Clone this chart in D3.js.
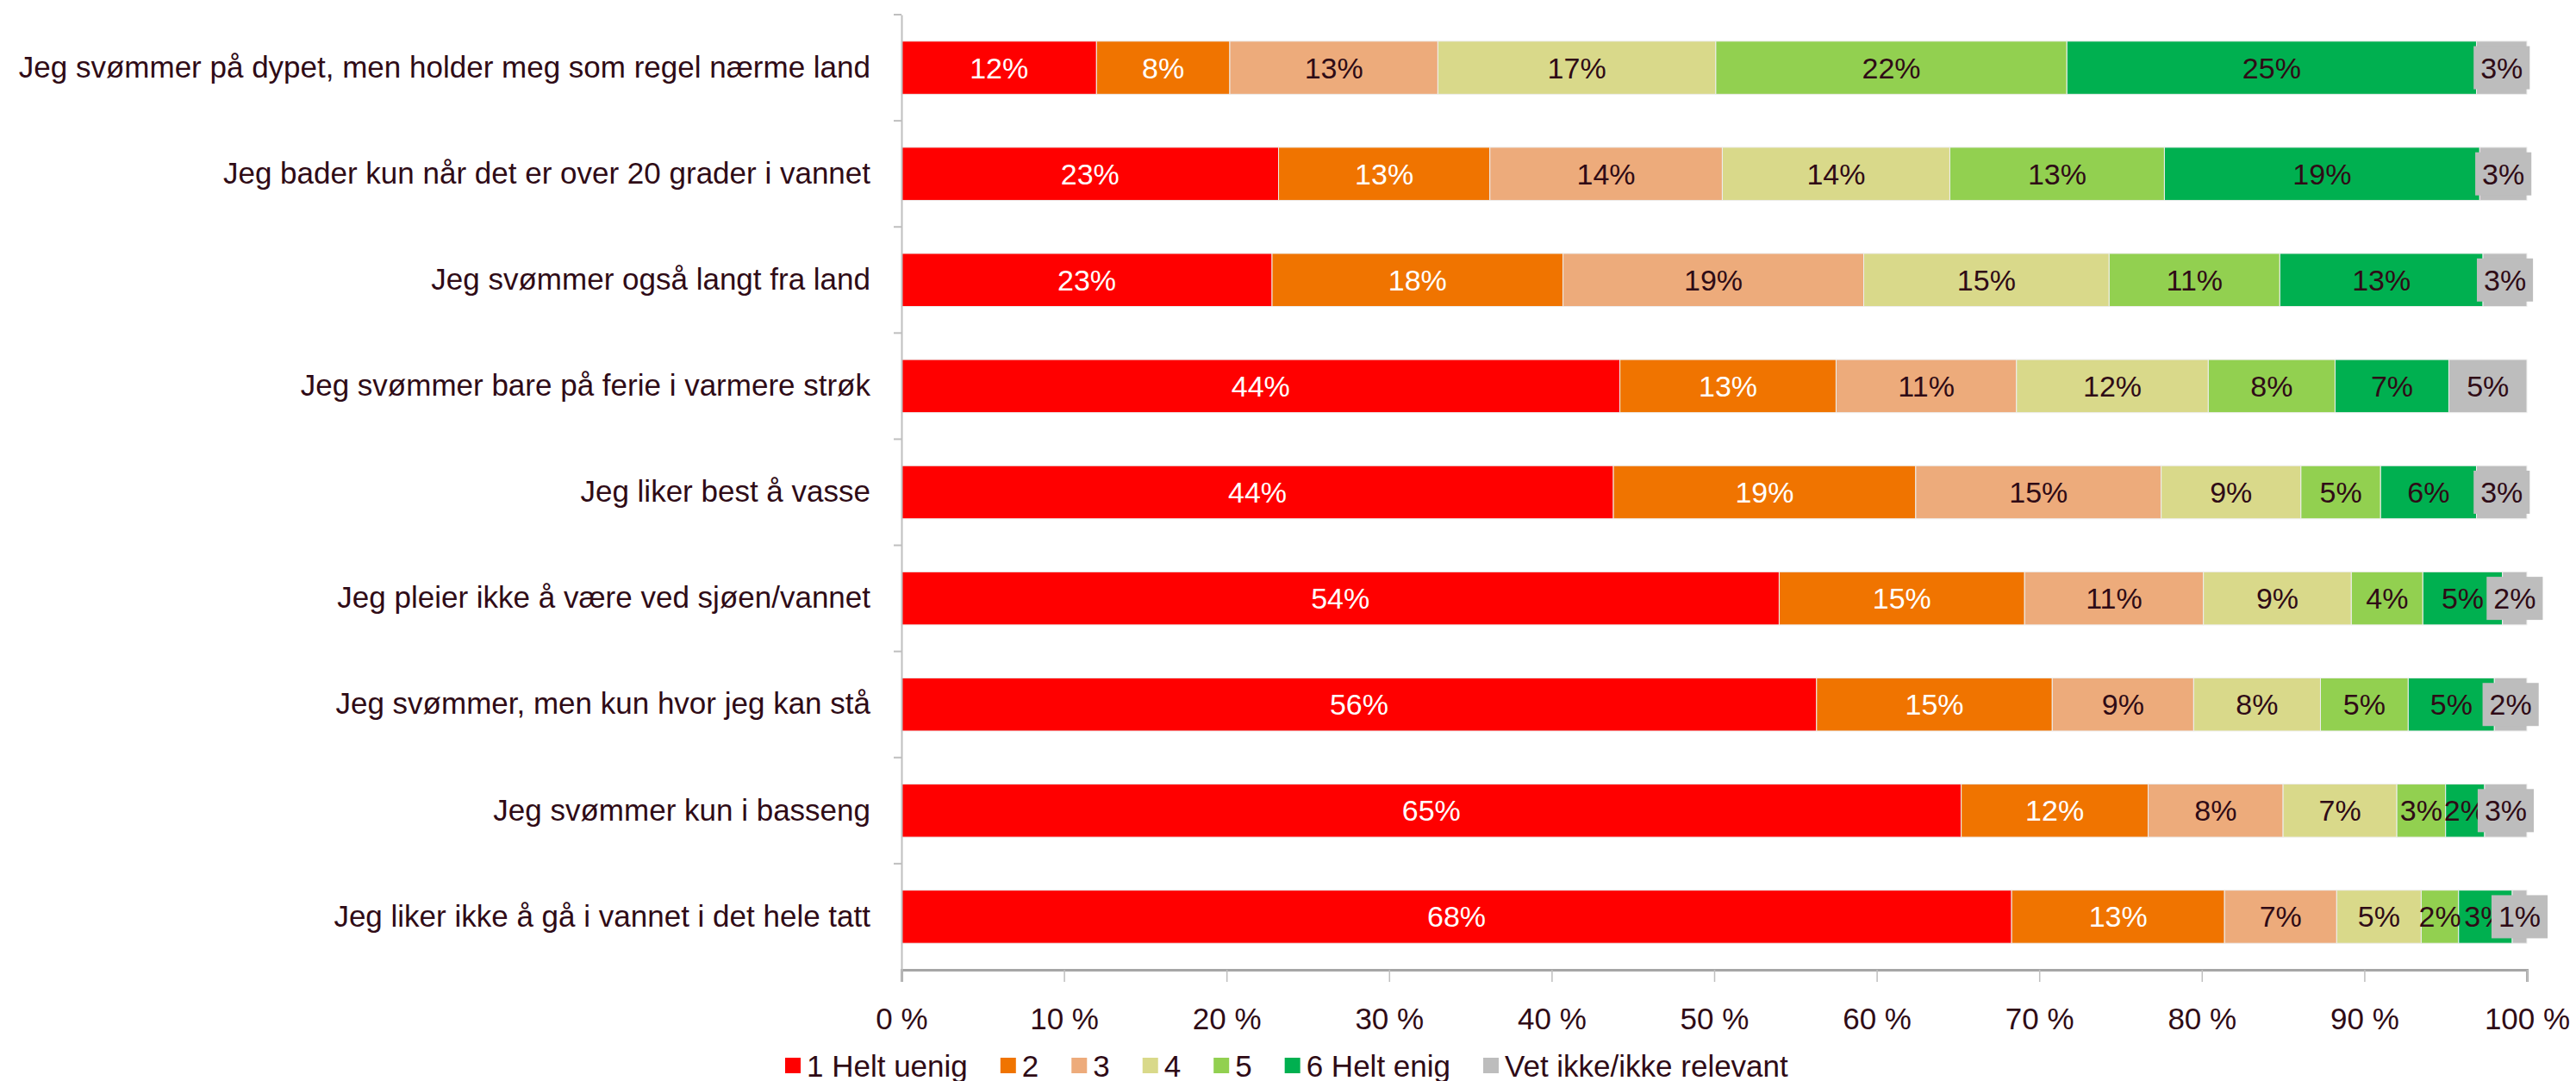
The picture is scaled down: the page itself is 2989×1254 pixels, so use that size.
<!DOCTYPE html>
<html>
<head>
<meta charset="utf-8">
<script src="https://cdn.jsdelivr.net/npm/d3@7/dist/d3.min.js"></script>
<style>
  html, body { margin: 0; padding: 0; background: #ffffff; }
  svg { display: block; }
  text { font-family: "Liberation Sans", Arial, sans-serif; }
</style>
</head>
<body>
<script>
// ---------- DATA ----------
const categories = [
  "Jeg svømmer på dypet, men holder meg som regel nærme land",
  "Jeg bader kun når det er over 20 grader i vannet",
  "Jeg svømmer også langt fra land",
  "Jeg svømmer bare på ferie i varmere strøk",
  "Jeg liker best å vasse",
  "Jeg pleier ikke å være ved sjøen/vannet",
  "Jeg svømmer, men kun hvor jeg kan stå",
  "Jeg svømmer kun i basseng",
  "Jeg liker ikke å gå i vannet i det hele tatt"
];
const seriesNames = ["1 Helt uenig", "2", "3", "4", "5", "6 Helt enig", "Vet ikke/ikke relevant"];
const s1 = [12.0, 23.2, 22.8, 44.2, 43.8, 54.0, 56.3, 65.2, 68.3];
const s2 = [8.2, 13.0, 17.9, 13.3, 18.6, 15.1, 14.5, 11.5, 13.1];
const s3 = [12.8, 14.3, 18.5, 11.1, 15.1, 11.0, 8.7, 8.3, 6.9];
const s4 = [17.1, 14.0, 15.1, 11.8, 8.6, 9.1, 7.8, 7.0, 5.2];
const s5 = [21.6, 13.2, 10.5, 7.8, 4.9, 4.4, 5.4, 3.0, 2.3];
const s6 = [25.2, 19.4, 12.5, 7.0, 5.9, 4.9, 5.3, 2.4, 3.3];
const s7 = [3.1, 2.9, 2.7, 4.8, 3.1, 1.5, 2.0, 2.6, 0.9];
const seriesValues = [s1, s2, s3, s4, s5, s6, s7];
const tickValues = [0, 10, 20, 30, 40, 50, 60, 70, 80, 90, 100];
const tickLabels = ["0 %", "10 %", "20 %", "30 %", "40 %", "50 %", "60 %", "70 %", "80 %", "90 %", "100 %"];

// ---------- STYLE ----------
const colors = ["#FF0000", "#F07400", "#EDAB7B", "#D9D98A", "#92D050", "#00B050", "#BDBDBD"];
const labelColors = ["#ffffff", "#ffffff", "#2F0B16", "#2F0B16", "#2F0B16", "#2F0B16", "#2F0B16"];
const textColor = "#2F0B16";
const W = 2989, H = 1254;
const margin = { left: 1046, right: 57, top: 17, bottom: 129 };
const fontSize = 35;
const dataFontSize = 34;

const svg = d3.select("body").append("svg").attr("width", W).attr("height", H);

const x = d3.scaleLinear().domain([0, 100]).range([margin.left, W - margin.right]);
const y = d3.scaleBand().domain(categories).range([margin.top, H - margin.bottom]).paddingInner(0.5).paddingOuter(0.25);

// stack
const rows = categories.map((c, i) => {
  const o = { cat: c };
  seriesNames.forEach((s, j) => o[s] = seriesValues[j][i]);
  return o;
});
const stacked = d3.stack().keys(seriesNames)(rows);

// bars
const groups = svg.append("g").selectAll("g").data(stacked).join("g")
  .attr("fill", (d, i) => colors[i]);
groups.selectAll("rect").data(d => d).join("rect")
  .attr("x", d => x(d[0]))
  .attr("y", d => y(d.data.cat))
  .attr("width", d => x(d[1]) - x(d[0]))
  .attr("height", y.bandwidth())
  .attr("stroke", "#eeeeee")
  .attr("stroke-width", 1);

// axes
const xAxis = d3.axisBottom(x).tickValues(tickValues).tickFormat((d, i) => tickLabels[i]).tickSize(14).tickPadding(30);
const gx = svg.append("g").attr("transform", `translate(0,${H - margin.bottom})`).call(xAxis);
gx.select(".domain").attr("stroke", "#A6A6A6").attr("stroke-width", 3);
gx.selectAll(".tick line").attr("stroke", "#BFBFBF").attr("stroke-width", 1.5);
gx.selectAll(".tick text").attr("fill", textColor).style("font-size", fontSize + "px")
  .style("font-family", "'Liberation Sans', Arial, sans-serif");

// y axis line + ticks at band boundaries
const yAxis = d3.axisLeft(y).tickSize(0).tickPadding(36);
const gy = svg.append("g").attr("transform", `translate(${margin.left},0)`).call(yAxis);
gy.select(".domain").attr("stroke", "#BFBFBF").attr("stroke-width", 2);
gy.selectAll(".tick text").attr("fill", textColor).style("font-size", fontSize + "px")
  .style("font-family", "'Liberation Sans', Arial, sans-serif");
const step = y.step();
const boundaries = d3.range(categories.length).map(i => y(categories[i]) - step * 0.25);
svg.append("g").selectAll("line").data(boundaries).join("line")
  .attr("x1", margin.left - 9).attr("x2", margin.left)
  .attr("y1", d => d).attr("y2", d => d)
  .attr("stroke", "#BFBFBF").attr("stroke-width", 2);

// data labels
const labelLayer = svg.append("g");
stacked.forEach((layer, si) => {
  const g = labelLayer.append("g");
  layer.forEach(d => {
    const cx = (x(d[0]) + x(d[1])) / 2;
    const cy = y(d.data.cat) + y.bandwidth() / 2;
    const t = g.append("text")
      .attr("x", cx).attr("y", cy)
      .attr("text-anchor", "middle")
      .attr("dominant-baseline", "central")
      .attr("fill", labelColors[si])
      .style("font-size", dataFontSize + "px")
      .text(Math.round(d[1] - d[0]) + "%");
    if (si === stacked.length - 1) {
      const w = t.node().getComputedTextLength();
      g.insert("rect", "text:last-child")
        .attr("x", cx - w / 2 - 8).attr("y", cy - 25)
        .attr("width", w + 16).attr("height", 50)
        .attr("fill", colors[si]);
    }
  });
});

// legend
const legend = svg.append("g").attr("transform", `translate(911, 1236)`);
let lx = 0;
seriesNames.forEach((s, i) => {
  legend.append("rect").attr("x", lx).attr("y", -9).attr("width", 18).attr("height", 18).attr("fill", colors[i]);
  const t = legend.append("text").attr("x", lx + 25).attr("y", 0)
    .attr("dominant-baseline", "central")
    .attr("fill", textColor).style("font-size", fontSize + "px").text(s);
  lx += 25 + t.node().getComputedTextLength() + 38;
});
</script>
</body>
</html>
